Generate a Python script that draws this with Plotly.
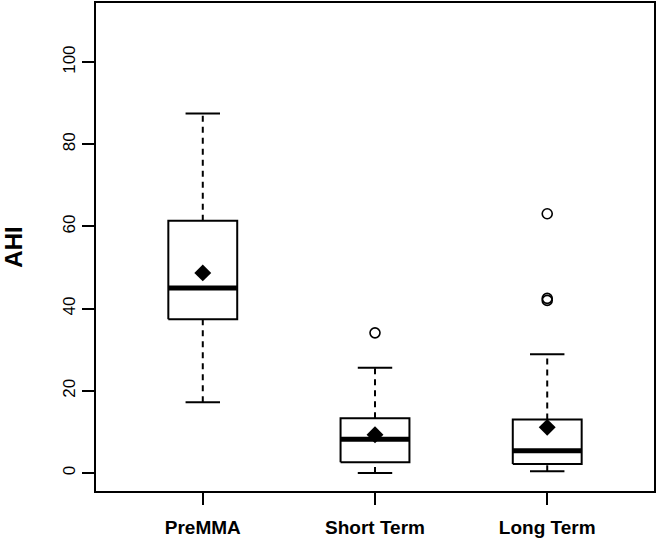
import plotly.graph_objects as go

groups = ["PreMMA", "Short Term", "Long Term"]
lower_whisker = [17.2, 0.0, 0.4]
q1 = [37.4, 2.6, 2.2]
median = [45.0, 8.2, 5.4]
q3 = [61.4, 13.3, 13.0]
upper_whisker = [87.5, 25.6, 28.9]
means = [48.7, 9.3, 11.1]
outlier_group = ["Short Term", "Long Term", "Long Term", "Long Term"]
outlier_values = [34.1, 63.1, 42.5, 42.0]

pos = {g: i + 1 for i, g in enumerate(groups)}
half_box = 0.2
half_cap = 0.1

fig = go.Figure()

def seg_trace(xs, ys, width, dash="solid"):
    fig.add_trace(go.Scatter(x=xs, y=ys, mode="lines",
                             line=dict(color="black", width=width, dash=dash),
                             hoverinfo="skip", showlegend=False))

# whiskers (dashed)
wx, wy = [], []
for i, g in enumerate(groups):
    p = pos[g]
    wx += [p, p, None, p, p, None]
    wy += [lower_whisker[i], q1[i], None, q3[i], upper_whisker[i], None]
seg_trace(wx, wy, 2, dash="6px,5px")

# caps
cx, cy = [], []
for i, g in enumerate(groups):
    p = pos[g]
    cx += [p - half_cap, p + half_cap, None, p - half_cap, p + half_cap, None]
    cy += [lower_whisker[i], lower_whisker[i], None, upper_whisker[i], upper_whisker[i], None]
seg_trace(cx, cy, 2)

# boxes
bx, by = [], []
for i, g in enumerate(groups):
    p = pos[g]
    bx += [p - half_box, p + half_box, p + half_box, p - half_box, p - half_box, None]
    by += [q1[i], q1[i], q3[i], q3[i], q1[i], None]
seg_trace(bx, by, 2)

# medians
mx, my = [], []
for i, g in enumerate(groups):
    p = pos[g]
    mx += [p - half_box, p + half_box, None]
    my += [median[i], median[i], None]
seg_trace(mx, my, 5)

# outliers
fig.add_trace(go.Scatter(x=[pos[g] for g in outlier_group], y=outlier_values, mode="markers",
                         marker=dict(symbol="circle-open", size=10, color="black",
                                     line=dict(width=1.6, color="black")),
                         showlegend=False))
# means
fig.add_trace(go.Scatter(x=[pos[g] for g in groups], y=means, mode="markers",
                         marker=dict(symbol="diamond", size=13, color="black"),
                         showlegend=False))

font_family = "Liberation Sans, Arial, sans-serif"
fig.update_layout(
    width=658, height=541,
    margin=dict(l=96, r=4, t=3, b=50),
    plot_bgcolor="white", paper_bgcolor="white",
    font=dict(family=font_family, color="black"),
    xaxis=dict(range=[0.38, 3.62], tickvals=[1, 2, 3],
               ticktext=["<b>" + g + "</b>" for g in groups],
               tickfont=dict(size=19, family=font_family, color="black"),
               ticks="outside", ticklen=12, tickwidth=2, tickcolor="black",
               ticklabelstandoff=6,
               showline=True, linewidth=2, linecolor="black", mirror=True,
               showgrid=False, zeroline=False, fixedrange=True, automargin=False),
    yaxis=dict(range=[-4.4, 114.4], tickvals=[0, 20, 40, 60, 80, 100],
               tickangle=-90,
               tickfont=dict(size=17, family=font_family, color="black"),
               ticks="outside", ticklen=12, tickwidth=2, tickcolor="black",
               showline=True, linewidth=2, linecolor="black", mirror=True,
               showgrid=False, zeroline=False, automargin=False,
               title=dict(text="<b>AHI</b>", font=dict(size=24, family=font_family), standoff=32)),
)

fig.write_html("out.html", config={"displayModeBar": False},
               post_script="document.body.style.margin='0';document.body.style.overflow='hidden';")
